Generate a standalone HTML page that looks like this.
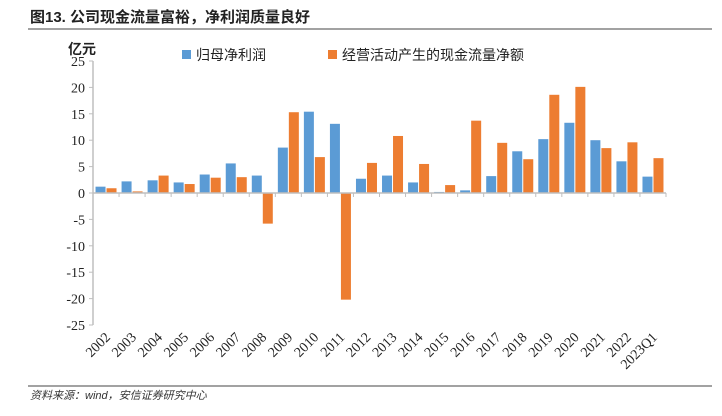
<!DOCTYPE html>
<html><head><meta charset="utf-8"><style>
body{margin:0;background:#fff;width:722px;height:411px;overflow:hidden;font-family:"Liberation Serif","Noto Serif CJK SC",serif}
</style></head><body>
<svg width="722" height="411" xmlns="http://www.w3.org/2000/svg">
<text x="30" y="22" font-size="15" font-weight="bold" font-family="Liberation Sans, Noto Sans CJK SC, sans-serif" fill="#222">图13. 公司现金流量富裕，净利润质量良好</text>
<line x1="28" y1="29" x2="712" y2="29" stroke="#444" stroke-width="1"/>
<text x="68" y="54" font-size="14" font-weight="bold" font-family="Liberation Sans, Noto Sans CJK SC, sans-serif" fill="#222">亿元</text>
<rect x="182" y="50" width="9" height="9" fill="#5b9bd5"/>
<text x="196" y="60" font-size="14" font-family="Noto Sans CJK SC, sans-serif" fill="#222">归母净利润</text>
<rect x="328" y="50" width="9" height="9" fill="#ed7d31"/>
<text x="342" y="60" font-size="14" font-family="Noto Sans CJK SC, sans-serif" fill="#222">经营活动产生的现金流量净额</text>
<g id="plot"></g>
<line x1="28" y1="386" x2="712" y2="386" stroke="#444" stroke-width="1"/>
<text x="30" y="399" font-size="11" font-style="italic" font-family="Liberation Sans, Noto Sans CJK SC, sans-serif" fill="#333">资料来源：wind，安信证券研究中心</text>
</svg>
<script>
const categories=["2002","2003","2004","2005","2006","2007","2008","2009","2010","2011","2012","2013","2014","2015","2016","2017","2018","2019","2020","2021","2022","2023Q1"];
const netProfit=[1.2,2.2,2.4,2.0,3.5,5.6,3.3,8.6,15.4,13.1,2.7,3.3,2.0,0.2,0.5,3.2,7.9,10.2,13.3,10.0,6.0,3.1];
const cashFlow=[0.9,0.3,3.3,1.7,2.9,3.0,-5.8,15.3,6.8,-20.2,5.7,10.8,5.5,1.5,13.7,9.5,6.4,18.6,20.1,8.5,9.6,6.6];
const yTicks=[25,20,15,10,5,0,-5,-10,-15,-20,-25];
const NS="http://www.w3.org/2000/svg";
const g=document.getElementById('plot');
const x0=93,x1=666,yTop=61,yBot=325,vMax=25,vMin=-25;
const y=v=>yTop+(vMax-v)/(vMax-vMin)*(yBot-yTop);
const step=(x1-x0)/categories.length;
const xc=i=>x0+step*(i+0.5);
function mk(t,a){const e=document.createElementNS(NS,t);for(const k in a)e.setAttribute(k,a[k]);g.appendChild(e);return e;}
let e=mk('line',{x1:x0,y1:yTop,x2:x0,y2:yBot,stroke:'#bfbfbf','stroke-width':1.5});


yTicks.forEach(v=>{
 let t=mk('line',{x1:x0-4,y1:y(v),x2:x0,y2:y(v),stroke:'#bfbfbf'});
 
 
 let l=mk('text',{x:x0-8,y:y(v)+5,'font-size':14,'text-anchor':'end',fill:'#222'});
 l.textContent=v;
 
 
});
const bw=10;
categories.forEach((c,i)=>{
 const cx=xc(i);
 let a=mk('rect',{x:cx-bw-0.5,y:Math.min(y(netProfit[i]),y(0)),width:bw,height:Math.abs(y(netProfit[i])-y(0)),fill:'#5b9bd5'});
 
 
 let b=mk('rect',{x:cx+0.5,y:Math.min(y(cashFlow[i]),y(0)),width:bw,height:Math.abs(y(cashFlow[i])-y(0)),fill:'#ed7d31'});
 
 
 let t=mk('line',{x1:x0+step*(i+1),y1:y(0),x2:x0+step*(i+1),y2:y(0)+4,stroke:'#bfbfbf'});
 
 
 let l=mk('text',{x:cx+5,y:338,'font-size':14,'text-anchor':'end',fill:'#222',transform:`rotate(-45 ${cx+5} 338)`});
 l.textContent=c;
 
 
});
e=mk('line',{x1:x0,y1:y(0),x2:x1,y2:y(0),stroke:'#bfbfbf','stroke-width':1.5});


</script>
</body></html>
